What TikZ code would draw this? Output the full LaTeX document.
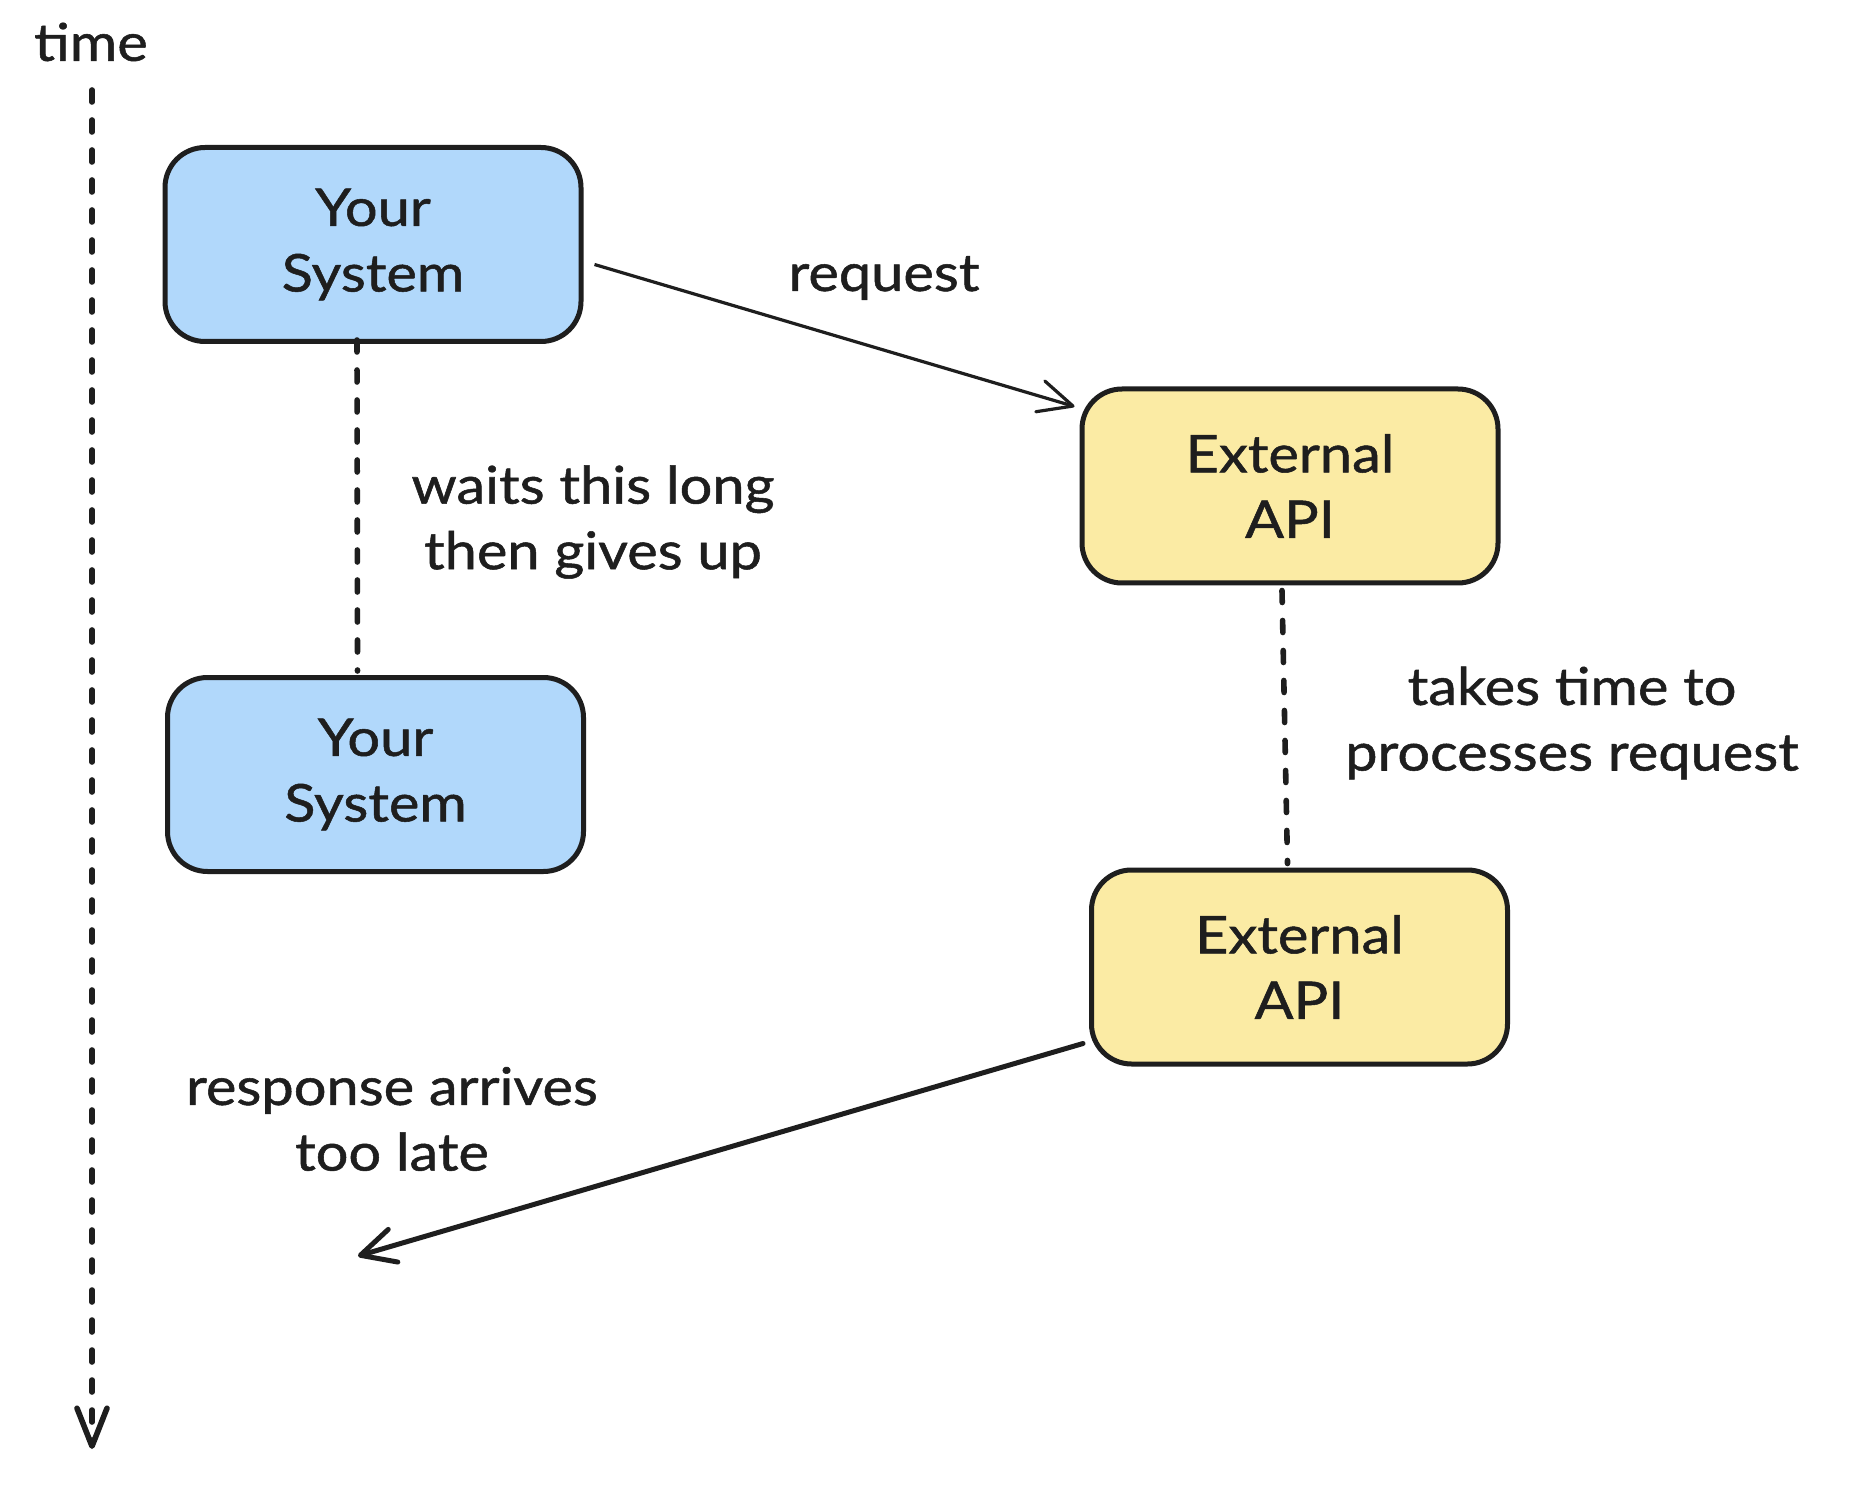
\documentclass[tikz,border=0pt]{standalone}
\usepackage{fontspec}
\setmainfont{Lato}[FakeStretch=1.11,FakeBold=1]
\usetikzlibrary{arrows.meta,calc}
\definecolor{ink}{HTML}{1E1E1E}
\definecolor{sysblue}{HTML}{B1D8FB}
\definecolor{apiyellow}{HTML}{FBEBA4}
\tikzset{
  box/.style={draw=ink, line width=2.5pt, rounded corners=20pt, minimum width=208pt, minimum height=97pt, align=center, inner sep=0pt, text=ink, font=\fontsize{26}{32.8}\selectfont},
  sysbox/.style={box, fill=sysblue},
  apibox/.style={box, fill=apiyellow},
  lbl/.style={text=ink, align=center, inner sep=0pt, font=\fontsize{26}{32.8}\selectfont},
  dashline/.style={draw=ink, line width=2.8pt, line cap=round, dash pattern=on 6pt off 9pt},
  barb/.style={-{Straight Barb[length=17pt,width=17pt,line width=2.5pt,line cap=round,line join=round]}}
}
\begin{document}
\begin{tikzpicture}[x=0.5pt,y=-0.5pt]
\useasboundingbox (0,0) rectangle (1870,1492);
\fill[white] (0,0) rectangle (1870,1492);
% time axis
\node[lbl] (time) at (91,42) {time};
\coordinate (ttop) at (92,90);
\coordinate (tbot) at (92,1449);
\draw[dashline, -{Straight Barb[length=19pt,width=15pt,line width=2.8pt,line cap=round,line join=round]}] (ttop) -- (tbot);
% boxes
\node[sysbox] (s1) at (373,244.5) {Your\\System};
\node[sysbox] (s2) at (375.5,774.5) {Your\\System};
\node[apibox] (a1) at (1290,486) {External\\API};
\node[apibox] (a2) at (1299.5,967) {External\\API};
% request
\draw[draw=ink, line width=1.6pt, -{Straight Barb[length=17pt,width=16pt,line width=1.6pt,line cap=round,line join=round]}]
  ($(s1.east)+(11,20)$) -- ($(a1.north west)+(-5,20)$);
\node[lbl] (req) at (884,278) {request};
% waits
\draw[dashline] ($(s1.south)+(-16,-4)$) -- ($(s2.north)+(-18,-4)$);
\node[lbl] (wait) at (593,522) {waits this long\\then gives up};
% takes time
\draw[dashline] ($(a1.south)+(-8,5)$) -- ($(a2.north)+(-12,-4)$);
\node[lbl] (takes) at (1572,723) {takes time to\\processes request};
% response
\coordinate (rend) at (358,1256);
\draw[draw=ink, line width=2.5pt, line cap=round, barb] ($(a2.south west)+(-6,-23)$) -- (rend);
\node[lbl] (resp) at (392,1119) {response arrives\\too late};
\end{tikzpicture}
\end{document}
